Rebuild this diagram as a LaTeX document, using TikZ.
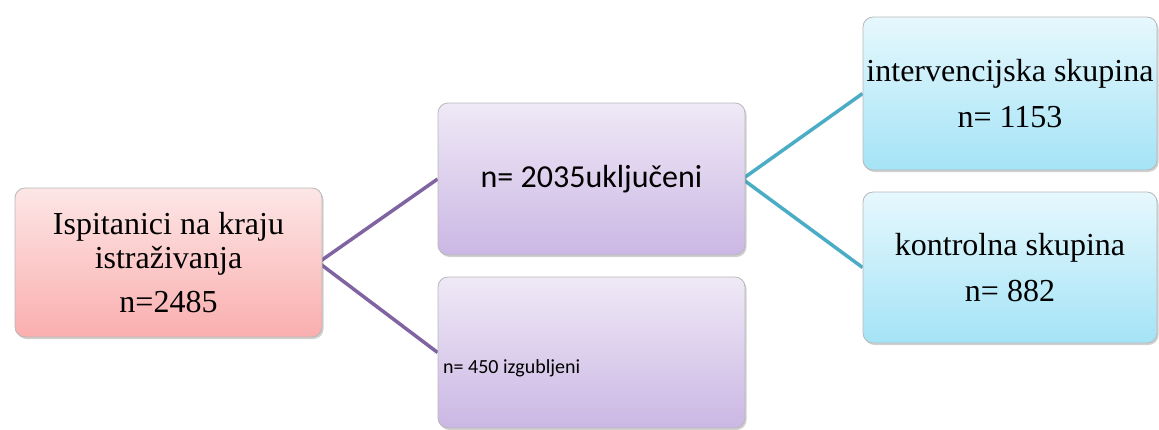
\documentclass[tikz,border=0pt]{standalone}
\usepackage{fontspec}
\setmainfont{Liberation Serif}
\newfontfamily\calib{Carlito}
\usetikzlibrary{shadows,backgrounds}
\definecolor{redtop}{HTML}{FDE6E6}
\definecolor{redbot}{HTML}{FAAEAE}
\definecolor{purtop}{HTML}{EFE9F6}
\definecolor{purbot}{HTML}{CBB7E4}
\definecolor{cyantop}{HTML}{E6F8FD}
\definecolor{cyanbot}{HTML}{A4E3F6}
\definecolor{purline}{HTML}{8064A2}
\definecolor{cyanline}{HTML}{4BACC6}
\definecolor{boxedge}{HTML}{B8B8B8}
\begin{document}
\begin{tikzpicture}[x=1pt,y=-1pt,
  box/.style={rectangle, rounded corners=10pt, draw=boxedge, line width=0.8pt,
    drop shadow={shadow xshift=1.5pt, shadow yshift=-2pt, opacity=0.3, fill=black!60},
    inner sep=2pt, align=center},
  redfill/.style={top color=redtop, bottom color=redbot},
  purfill/.style={top color=purtop, bottom color=purbot},
  cyanfill/.style={top color=cyantop, bottom color=cyanbot},
  serif32/.style={font=\fontsize{32}{34}\selectfont},
  link/.style={line width=3.5pt}
]
\useasboundingbox (0,0) rectangle (1159,429);

\node[box, redfill, serif32, minimum width=307pt, minimum height=149pt] (a) at (168.5,262.5)
  {Ispitanici na kraju\\istraživanja\\[10pt]n=2485};

\node[box, purfill, minimum width=307pt, minimum height=152pt,
  font=\calib\fontsize{32}{34}\selectfont] (b) at (591.5,179) {n= 2035uključeni};

\node[box, purfill, minimum width=307pt, minimum height=151pt] (c) at (591.5,352.5) {};
\node[anchor=west, inner sep=0pt, font=\calib\fontsize{20}{22}\selectfont] (ct) at (443,368) {n= 450 izgubljeni};

\node[box, cyanfill, serif32, minimum width=294pt, minimum height=153pt] (d) at (1010,93.5)
  {intervencijska skupina\\[12pt]n= 1153};

\node[box, cyanfill, serif32, minimum width=294pt, minimum height=151pt] (e) at (1010,267.5)
  {kontrolna skupina\\[12pt]n= 882};

\begin{scope}[on background layer]
\draw[link, purline] (b.west) -- ([xshift=-4pt]a.east) -- (c.west);
\draw[link, cyanline] (d.west) -- ([xshift=-3pt]b.east) -- (e.west);
\end{scope}
\end{tikzpicture}
\end{document}
